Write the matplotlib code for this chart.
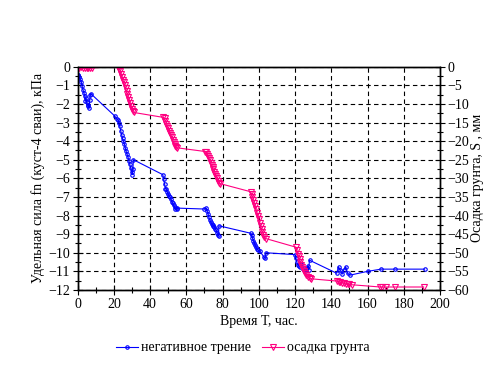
import matplotlib
matplotlib.use("Agg")
import matplotlib.pyplot as plt
from matplotlib.ticker import MultipleLocator

plt.rcParams['font.family'] = ['Liberation Serif', 'DejaVu Serif']
plt.rcParams['font.size'] = 10

# негативное трение: время, ч / удельная сила, кПа
t_fn = [0.0, 0.5, 1.0, 1.5, 2.0, 2.5, 3.0, 3.5, 4.0, 4.3, 4.7, 5.0, 5.5, 6.0, 6.4, 6.7, 7.0, 7.3,
        20.5, 21.5, 22.3, 22.8, 23.3, 23.8, 24.3, 24.8, 25.3, 25.8, 26.3, 26.8, 27.3, 27.8, 28.3,
        28.8, 29.3, 29.8, 30.2, 30.5, 30.8,
        47.0, 47.5, 48.0, 48.5, 49.0, 49.5, 50.0, 50.5, 51.0, 51.5, 52.0, 52.5, 53.0, 53.5, 54.0,
        54.7, 55.0,
        70.0, 71.0, 71.5, 72.0, 72.5, 73.0, 73.5, 74.0, 74.5, 75.0, 75.5, 76.0, 76.5, 77.0, 77.5,
        77.8, 78.0,
        95.5, 96.0, 96.5, 97.0, 97.5, 98.0, 98.5, 99.0, 99.5, 100.5, 103.0, 103.5, 104.0,
        120.0, 120.5, 121.0, 121.5, 122.0, 122.5, 123.0, 123.5, 124.5, 125.0, 125.5, 126.0, 126.5,
        127.0, 127.5, 128.0,
        143.0, 144.0, 145.0, 146.0, 147.0, 148.0, 149.0, 150.5, 160.0, 167.5, 175.0, 191.5]
fn = [-0.42, -0.45, -0.55, -0.68, -0.8, -1.05, -1.25, -1.4, -1.6, -1.85, -1.7, -1.9, -2.05, -2.1,
      -2.2, -1.8, -1.5, -1.45,
      -2.65, -2.8, -2.85, -3.0, -3.2, -3.45, -3.65, -3.85, -4.0, -4.15, -4.35, -4.55, -4.7, -4.85,
      -5.05, -5.25, -5.45, -5.65, -5.8, -5.5, -5.0,
      -5.8, -6.05, -6.3, -6.55, -6.6, -6.75, -6.85, -6.95, -7.0, -7.1, -7.25, -7.35, -7.45, -7.55,
      -7.65, -7.65, -7.6,
      -7.65, -7.6, -7.75, -7.9, -8.1, -8.25, -8.35, -8.45, -8.5, -8.55, -8.6, -8.7, -8.8, -8.95,
      -9.05, -9.1, -8.55,
      -8.95, -9.05, -9.2, -9.35, -9.45, -9.6, -9.7, -9.8, -9.85, -9.9, -10.25, -10.3, -10.0,
      -10.1, -10.3, -10.5, -10.65, -10.7, -10.6, -10.75, -10.6, -10.85, -10.95, -11.0, -10.85,
      -10.8, -10.7, -10.9, -10.4,
      -11.1, -10.75, -10.95, -11.15, -10.9, -10.75, -11.1, -11.2, -11.0, -10.88, -10.88, -10.88]

# осадка грунта: время, ч / осадка, мм
t_s = [0, 1, 2, 3, 4, 5, 6, 7, 8,
       22.5, 23, 23.5, 24, 24.5, 25, 25.5, 26, 26.5, 27, 27.5, 28, 28.5, 29, 29.5, 30, 30.5, 31,
       47, 48, 48.5, 49, 49.5, 50, 50.5, 51, 51.5, 52, 52.5, 53, 53.5, 54, 54.5, 55,
       70.5, 71, 71.5, 72, 72.5, 73, 73.5, 74, 74.5, 75, 75.5, 76, 76.5, 77, 77.5, 78, 78.5,
       95.5, 96, 96.5, 97, 97.5, 98, 98.5, 99, 99.5, 100, 100.5, 101, 101.5, 102, 102.5, 103, 104,
       120.5, 121, 121.5, 122, 122.5, 123, 123.5, 124, 124.5, 125, 125.5, 126, 127, 128, 129,
       143, 144, 145, 146, 147, 148, 149, 150, 151.5, 167, 168, 170, 175, 191]
s = [0, -0.3, -0.2, -0.4, -0.3, -0.4, -0.3, -0.4, -0.3,
     0, -0.5, -1.2, -2, -2.8, -3.5, -4.2, -5, -5.8, -6.6, -7.4, -8.2, -9, -9.8, -10.6, -11.3, -12, -12.3,
     -13.6, -13.9, -14.6, -15.3, -16, -16.6, -17.2, -17.8, -18.4, -19, -19.6, -20.2, -20.8, -21.3,
     -21.7, -21.8,
     -22.8, -23, -23.5, -24, -24.6, -25.2, -25.8, -26.4, -27, -27.6, -28.2, -28.8, -29.4, -30,
     -30.6, -31.2, -31.4,
     -33.6, -34.2, -35, -35.8, -36.6, -37.4, -38.3, -39.2, -40, -41, -41.9, -42.8, -43.6, -44.4,
     -45.2, -45.8, -46.2,
     -48.5, -49.3, -50.2, -51, -51.8, -52.5, -53.2, -53.8, -54.4, -55, -55.5, -56, -56.4, -56.8, -57,
     -57.6, -57.8, -57.9, -58.0, -58.2, -58.4, -58.5, -58.5, -58.6, -59.2, -59.2, -59.2, -59.2, -59.2]

fig = plt.figure(figsize=(4.88, 3.66), dpi=100)
ax = fig.add_axes([0.159, 0.2077, 0.7426, 0.6101])
ax2 = ax.twinx()

l1, = ax.plot(t_fn, fn, color='#0000FF', lw=0.8, marker='o', ms=2.5, mfc='none', mew=0.8,
              label='негативное трение')
l2, = ax2.plot(t_s, s, color='#FF0080', lw=0.8, marker='v', ms=4, mfc='none', mew=0.8,
               label='осадка грунта')

ax.set_xlim(0, 200)
ax.set_ylim(-12, 0)
ax2.set_ylim(-60, 0)
ax.xaxis.set_major_locator(MultipleLocator(20))
ax.xaxis.set_minor_locator(MultipleLocator(10))
ax.yaxis.set_major_locator(MultipleLocator(1))
ax.yaxis.set_minor_locator(MultipleLocator(0.5))
ax2.yaxis.set_major_locator(MultipleLocator(5))
ax2.yaxis.set_minor_locator(MultipleLocator(2.5))

ax.grid(True, which='major', color='black', linestyle=(0, (4, 3)), lw=0.8)

for a in (ax, ax2):
    a.tick_params(which='major', direction='inout', length=7, width=0.8, color='black', pad=2)
    a.tick_params(which='minor', direction='inout', length=5, width=0.8, color='black')
    for sp in a.spines.values():
        sp.set_linewidth(1)
        sp.set_color('black')

ax.set_xlabel('Время Т, час.', labelpad=3)
ax.set_ylabel('Удельная сила fn (куст-4 сваи), кПа', labelpad=2)
ax2.set_ylabel('Осадка грунта, S , мм', labelpad=1)

fig.legend(handles=[l1, l2], loc='center', bbox_to_anchor=(243 / 488, 1 - 348 / 366), ncol=2,
           frameon=False, handlelength=1.6, columnspacing=0.8, handletextpad=0.2)

fig.savefig('out.png', dpi=100)
